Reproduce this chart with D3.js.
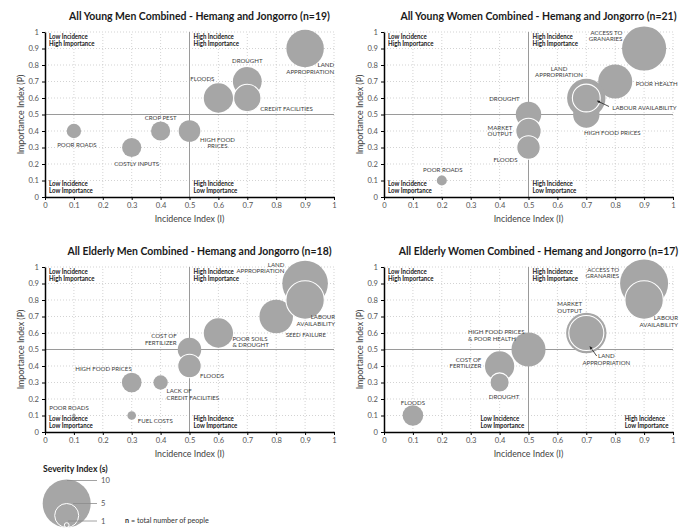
<!DOCTYPE html>
<html><head><meta charset="utf-8">
<script src="https://cdn.jsdelivr.net/npm/d3@7"></script>
<style>
body{margin:0;background:#fff;}
svg{display:block;}
</style></head>
<body>
<svg id="chart" width="686" height="529"></svg>
<script>
// ---------- DATA ----------
const titles = [
  "All Young Men Combined - Hemang and Jongorro (n=19)",
  "All Young Women Combined - Hemang and Jongorro (n=21)",
  "All Elderly Men Combined - Hemang and Jongorro (n=18)",
  "All Elderly Women Combined - Hemang and Jongorro (n=17)"
];
const tickLabels = ["0","0.1","0.2","0.3","0.4","0.5","0.6","0.7","0.8","0.9","1"];
const xAxisTitle = "Incidence Index (I)";
const yAxisTitle = "Importance Index (P)";
const quadrantTexts = [["Low Incidence","High Importance"],["High Incidence","High Importance"],["Low Incidence","Low Importance"],["High Incidence","Low Importance"]];

// Panel 1 – young men
const p1Categories = ["LAND\nAPPROPRIATION","DROUGHT","FLOODS","CROP PEST","HIGH FOOD\nPRICES","POOR ROADS","COSTLY INPUTS","CREDIT FACILITIES"];
const p1Incidence  = [0.9,0.7,0.6,0.4,0.5,0.1,0.3,0.7];
const p1Importance = [0.9,0.7,0.6,0.4,0.4,0.4,0.3,0.6];
const p1Severity   = [7.8,6.0,6.1,4.0,4.5,3.0,4.0,5.7];

// Panel 2 – young women
const p2Categories = ["ACCESS TO\nGRANARIES","POOR HEALTH","HIGH FOOD PRICES","LAND\nAPPROPRIATION","DROUGHT","MARKET\nOUTPUT","FLOODS","POOR ROADS","LABOUR AVAILABILITY"];
const p2Incidence  = [0.9,0.8,0.7,0.7,0.5,0.5,0.5,0.2,0.7];
const p2Importance = [0.9,0.7,0.5,0.6,0.5,0.4,0.3,0.1,0.6];
const p2Severity   = [9.2,7.1,5.5,8.0,5.3,5.3,4.9,2.1,5.8];

// Panel 3 – elderly men
const p3Categories = ["LAND\nAPPROPRIATION","SEED FAILURE","LABOUR\nAVAILABILITY","POOR SOILS\n& DROUGHT","COST OF\nFERTILIZER","FLOODS","HIGH FOOD PRICES","LACK OF\nCREDIT FACILITIES","POOR ROADS","FUEL COSTS"];
const p3Incidence  = [0.9,0.8,0.9,0.6,0.5,0.5,0.3,0.4,0.1,0.3];
const p3Importance = [0.9,0.7,0.8,0.6,0.5,0.4,0.3,0.3,0.1,0.1];
const p3Severity   = [9.5,7.0,8.0,6.1,4.9,4.9,4.1,3.0,0.7,1.8];

// Panel 4 – elderly women
const p4Categories = ["ACCESS TO\nGRANARIES","LABOUR\nAVAILABILITY","MARKET\nOUTPUT","HIGH FOOD PRICES\n& POOR HEALTH","COST OF\nFERTILIZER","DROUGHT","FLOODS","LAND\nAPPROPRIATION"];
const p4Incidence  = [0.9,0.9,0.7,0.5,0.4,0.4,0.1,0.7];
const p4Importance = [0.9,0.8,0.6,0.5,0.4,0.3,0.1,0.6];
const p4Severity   = [10.0,8.0,8.4,7.1,6.1,4.0,4.3,7.3];

// Legend
const legendTitle = "Severity Index (s)";
const legendValues = [10,5,1];
const noteText = ["n", " = total number of people"];

// ---------- LAYOUT (positions / styles) ----------
const panelLeft = [45,384,45,384];
const panelTop  = [32,32,267,267];
const panelW = 289, panelH = 165;
const quadLowX  = [0,0,0,0.32];
const quadHighX = [0.5,0.5,0.5,0.819];
const outlined = [
  ["CREDIT FACILITIES"],
  ["MARKET\nOUTPUT","FLOODS","LABOUR AVAILABILITY"],
  ["LABOUR\nAVAILABILITY","FLOODS"],
  ["LABOUR\nAVAILABILITY","DROUGHT","LAND\nAPPROPRIATION"]
];
const labelLayouts = [
  [[29,16.5,"end"],[0,-20.5,"middle"],[-4,-19,"end"],[0,-13.3,"middle"],[28,8.3,"middle"],[3,13.3,"middle"],[5,16.5,"middle"],[13,10.3,"start"]],
  [[-21.8,-16.2,"end"],[20.5,2.5,"start"],[26,17.8,"middle"],[-27.3,-29.7,"middle"],[-8.8,-15.8,"end"],[-16.2,-3.7,"end"],[-11,11.8,"end"],[1,-11,"middle"],[26,9.7,"start"]],
  [[-20.8,-19.2,"end"],[9.5,17.8,"start"],[30,16.7,"end"],[14,5.3,"start"],[-12.8,-13.5,"end"],[10.5,9.7,"start"],[0,-13.5,"end"],[6,8.5,"start"],[-24.6,-7.8,"start"],[6,4.8,"start"]],
  [[-25,-14.2,"end"],[34,17.7,"end"],[-16.6,-29,"middle"],[-60.5,-17.8,"start"],[-18.3,-6.7,"end"],[4.4,14.2,"middle"],[0,-12.8,"middle"],[20,22.7,"middle"]]
];
// arrows: [panel, category, tailDx, tailDy, headDx, headDy]
const arrows = [
  [1,"LABOUR AVAILABILITY",22.7,8.5,11.2,3],
  [3,"LAND\nAPPROPRIATION",10.4,23,3.7,13.7]
];
const titleTargetWidth = 261;

const FILL = "#a6a6a6";
const FONT = "Lato, 'Open Sans', sans-serif";

const svg = d3.select("#chart");
const defs = svg.append("defs");
defs.append("marker").attr("id","arrowhead").attr("viewBox","0 0 6 6").attr("refX",5).attr("refY",3)
  .attr("markerWidth",4).attr("markerHeight",4).attr("orient","auto")
  .append("path").attr("d","M0,0 L6,3 L0,6 Z").attr("fill","#222");

const rScale = d3.scaleLinear().domain([0,10]).range([0,24]);
const tickValues = tickLabels.map(Number);

const panelData = [
  [p1Categories,p1Incidence,p1Importance,p1Severity],
  [p2Categories,p2Incidence,p2Importance,p2Severity],
  [p3Categories,p3Incidence,p3Importance,p3Severity],
  [p4Categories,p4Incidence,p4Importance,p4Severity]
];

// measure title width to get horizontal condensing factor
const TITLE_SIZE = 11.5;
const probe = svg.append("text").attr("font-family",FONT).attr("font-weight","bold").attr("font-size",TITLE_SIZE).text(titles[0]);
const titleScaleX = Math.min(1, titleTargetWidth / probe.node().getComputedTextLength());
probe.remove();

function multiline(sel, text, lineH){
  text.split("\n").forEach((t,i)=>{
    sel.append("tspan").attr("x",0).attr("dy", i===0?0:lineH).text(t);
  });
}

panelData.forEach((pd, pi) => {
  const [cats, inc, imp, sev] = pd;
  const x0 = panelLeft[pi], yT = panelTop[pi];
  const x = d3.scaleLinear().domain([0,1]).range([x0, x0+panelW]);
  const y = d3.scaleLinear().domain([0,1]).range([yT+panelH, yT]);
  const g = svg.append("g");

  // title
  g.append("text").attr("transform",`translate(${x(0.5)+10},${yT-12}) scale(${titleScaleX},1)`)
    .attr("text-anchor","middle").attr("font-family",FONT).attr("font-weight","bold")
    .attr("font-size",TITLE_SIZE).attr("fill","#1a1a1a").text(titles[pi]);

  // gridlines
  tickValues.slice(1).forEach(v=>{
    g.append("line").attr("x1",x(v)).attr("x2",x(v)).attr("y1",y(0)).attr("y2",y(1))
      .attr("stroke","#c8c8c8").attr("stroke-width",0.8).attr("stroke-dasharray","1,2");
    g.append("line").attr("x1",x(0)).attr("x2",x(1)).attr("y1",y(v)).attr("y2",y(v))
      .attr("stroke","#c8c8c8").attr("stroke-width",0.8).attr("stroke-dasharray","1,2");
  });
  // quadrant lines
  g.append("line").attr("x1",x(0.5)).attr("x2",x(0.5)).attr("y1",y(0)).attr("y2",y(1))
    .attr("stroke","#9a9a9a").attr("stroke-width",1);
  g.append("line").attr("x1",x(0)).attr("x2",x(1)).attr("y1",y(0.5)).attr("y2",y(0.5))
    .attr("stroke","#9a9a9a").attr("stroke-width",1);

  // quadrant texts
  const quadX = [0, 0.5, quadLowX[pi], quadHighX[pi]];
  quadrantTexts.forEach((qt, qi) => {
    const qy = (qi<2) ? y(1)+7.3 : y(0)-11;
    const t = g.append("text").attr("transform",`translate(${x(quadX[qi])+4},${qy}) scale(0.94,1)`)
      .attr("font-family",FONT).attr("font-weight","bold").attr("font-size",6.5).attr("fill","#1a1a1a");
    multiline(t, qt.join("\n"), 7.2);
  });

  // bubbles
  const order = d3.range(cats.length).sort((a,b)=>{
    const oa = outlined[pi].includes(cats[a])?1:0, ob = outlined[pi].includes(cats[b])?1:0;
    return oa-ob || a-b;
  });
  order.forEach(i=>{
    const isOut = outlined[pi].includes(cats[i]);
    g.append("circle").attr("cx",x(inc[i])).attr("cy",y(imp[i])).attr("r",rScale(sev[i]))
      .attr("fill",FILL).attr("stroke", isOut?"#ffffff":"none").attr("stroke-width",isOut?1.1:0);
  });

  // labels
  cats.forEach((c,i)=>{
    const [dx,dy,anchor] = labelLayouts[pi][i];
    const t = g.append("text").attr("transform",`translate(${x(inc[i])+dx},${y(imp[i])+dy+2.2})`)
      .attr("text-anchor",anchor).attr("font-family",FONT).attr("font-size",6.1).attr("fill","#3c3c3c");
    multiline(t, c, 6.8);
  });

  // arrows
  arrows.filter(a=>a[0]===pi).forEach(a=>{
    const i = cats.indexOf(a[1]);
    const cx = x(inc[i]), cy = y(imp[i]);
    g.append("line").attr("x1",cx+a[2]).attr("y1",cy+a[3]).attr("x2",cx+a[4]).attr("y2",cy+a[5])
      .attr("stroke","#222").attr("stroke-width",0.8).attr("marker-end","url(#arrowhead)");
  });

  // axes
  const xAxis = d3.axisBottom(x).tickValues(tickValues).tickFormat((d,i)=>tickLabels[i]).tickSize(3).tickSizeOuter(0).tickPadding(3);
  const yAxis = d3.axisLeft(y).tickValues(tickValues).tickFormat((d,i)=>tickLabels[i]).tickSize(3).tickSizeOuter(0).tickPadding(3);
  const gx = g.append("g").attr("transform",`translate(0,${y(0)})`).call(xAxis);
  const gy = g.append("g").attr("transform",`translate(${x(0)},0)`).call(yAxis);
  [gx,gy].forEach(a=>{
    a.select(".domain").attr("stroke","#000").attr("stroke-width",1.5);
    a.selectAll(".tick line").attr("stroke","#000").attr("stroke-width",1);
    a.selectAll(".tick text").attr("font-family",FONT).attr("font-size",7.6).attr("fill","#555");
  });

  // axis titles
  g.append("text").attr("x",x(0.5)).attr("y",y(0)+25).attr("text-anchor","middle")
    .attr("font-family",FONT).attr("font-size",8.8).attr("fill","#404040").text(xAxisTitle);
  g.append("text").attr("transform",`translate(${x(0)-21},${(y(0)+y(1))/2}) rotate(-90)`)
    .attr("text-anchor","middle").attr("font-family",FONT).attr("font-size",8.8).attr("fill","#404040").text(yAxisTitle);
});

// ---------- LEGEND ----------
const lg = svg.append("g");
lg.append("text").attr("x",43).attr("y",472).attr("font-family",FONT).attr("font-weight","bold")
  .attr("font-size",8.6).attr("fill","#1a1a1a").text(legendTitle);
const lcx = 66.7, lbottom = 527.5;
legendValues.forEach((v,i)=>{
  const r = rScale(v);
  lg.append("circle").attr("cx",lcx).attr("cy",lbottom-r).attr("r",r)
    .attr("fill", i===0?FILL:"none").attr("stroke", i===0?"none":"#ffffff").attr("stroke-width",1);
});
const legendLineY = [480.5, 503.5, 521];
const legendLineX = [67, 73, 68];
legendValues.forEach((v,i)=>{
  lg.append("line").attr("x1",legendLineX[i]).attr("x2",97).attr("y1",legendLineY[i]).attr("y2",legendLineY[i])
    .attr("stroke","#8c8c8c").attr("stroke-width",0.8);
  lg.append("text").attr("x",101).attr("y",legendLineY[i]+2.6).attr("font-family",FONT)
    .attr("font-size",7.6).attr("fill","#555").text(v);
});
const nt = lg.append("text").attr("x",125).attr("y",522.5).attr("font-family",FONT).attr("font-size",7.2).attr("fill","#333");
nt.append("tspan").attr("font-weight","bold").text(noteText[0]);
nt.append("tspan").text(noteText[1]);
</script>
</body></html>
